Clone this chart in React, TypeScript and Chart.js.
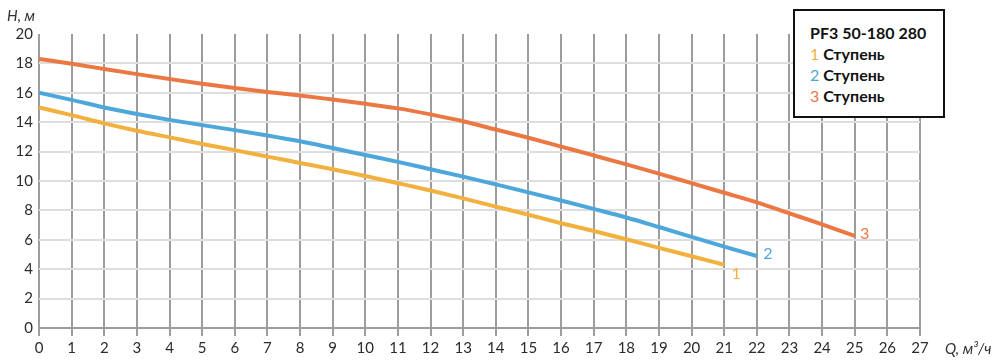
import React, { useEffect, useRef } from "react";
import { Chart, registerables } from "chart.js";

Chart.register(...registerables);

const flowRates = [0, 1, 2, 3, 4, 5, 6, 7, 8, 9, 10, 11, 12, 13, 14, 15, 16, 17, 18, 19, 20, 21, 22, 23, 24, 25];
const stage1Head = [15.0, 14.48, 13.92, 13.42, 12.97, 12.52, 12.1, 11.66, 11.23, 10.8, 10.34, 9.85, 9.35, 8.82, 8.26, 7.7, 7.13, 6.6, 6.04, 5.45, 4.88, 4.3];
const stage2Head = [16.0, 15.52, 15.0, 14.56, 14.16, 13.8, 13.46, 13.1, 12.7, 12.24, 11.77, 11.3, 10.8, 10.3, 9.77, 9.23, 8.67, 8.1, 7.52, 6.87, 6.2, 5.53, 4.9];
const stage3Head = [18.3, 17.98, 17.62, 17.27, 16.94, 16.61, 16.32, 16.06, 15.82, 15.54, 15.25, 14.94, 14.53, 14.06, 13.5, 12.94, 12.34, 11.74, 11.13, 10.5, 9.85, 9.2, 8.55, 7.8, 7.05, 6.26];
const seriesNames = ["1", "2", "3"];
const seriesColors = ["#F2B13F", "#4DA7DB", "#EB7843"];
const xTickLabels = flowRates.concat([26, 27]).map(String);
const legendTitle = "PF3 50-180 280";
const legendWord = "Ступень";
const yAxisTitle = "H, м";
const xAxisTitle = "Q, м³/ч";

const labelOffsets = [
  [12, 9],
  [11, -2],
  [10, -2],
];

const FONT = "Lato, 'Open Sans', sans-serif";

export default function App() {
  const canvasRef = useRef<HTMLCanvasElement | null>(null);

  useEffect(() => {
    document.body.style.margin = "0";
    const heads = [stage1Head, stage2Head, stage3Head];
    const datasets = heads.map((h, i) => ({
      label: seriesNames[i],
      data: h.map((y, k) => ({ x: flowRates[k], y })),
      borderColor: seriesColors[i],
      backgroundColor: seriesColors[i],
      borderWidth: 4,
      pointRadius: 0,
      tension: 0.4,
      cubicInterpolationMode: "monotone" as const,
      fill: false,
    }));

    const endLabels = {
      id: "endLabels",
      afterDatasetsDraw(chart: any) {
        const ctx = chart.ctx;
        ctx.save();
        ctx.font = `16px ${FONT}`;
        ctx.textAlign = "center";
        ctx.textBaseline = "middle";
        chart.data.datasets.forEach((ds: any, i: number) => {
          const meta = chart.getDatasetMeta(i);
          const pt = meta.data[meta.data.length - 1];
          if (!pt) return;
          ctx.fillStyle = seriesColors[i];
          ctx.fillText(ds.label, pt.x + labelOffsets[i][0], pt.y + labelOffsets[i][1]);
        });
        ctx.restore();
      },
    };

    const chart = new Chart(canvasRef.current as HTMLCanvasElement, {
      type: "line",
      data: { datasets },
      options: {
        animation: false,
        responsive: false,
        maintainAspectRatio: false,
        layout: { padding: { top: 34, right: 80, left: 0, bottom: 0 } },
        plugins: { legend: { display: false }, tooltip: { enabled: false } },
        scales: {
          x: {
            type: "linear",
            min: 0,
            max: 27,
            afterFit: (s: any) => {
              s.height = 35;
            },
            afterBuildTicks: (s: any) => {
              s.ticks = xTickLabels.map((t) => ({ value: Number(t) }));
            },
            ticks: {
              stepSize: 1,
              autoSkip: false,
              maxRotation: 0,
              padding: 3,
              color: "#2b2b2b",
              font: { family: FONT, size: 15 },
            },
            grid: {
              color: "#9d9d9d",
              lineWidth: 2,
              tickLength: 8,
              drawTicks: true,
            },
            border: { display: true, color: "#9d9d9d", width: 2 },
          },
          y: {
            min: 0,
            max: 20,
            afterFit: (s: any) => {
              s.width = 39;
            },
            ticks: {
              stepSize: 2,
              padding: 6,
              color: "#2b2b2b",
              font: { family: FONT, size: 15 },
            },
            grid: {
              drawTicks: false,
              lineWidth: 2,
              color: (c: any) => {
                const v = c.tick ? c.tick.value : null;
                if (v === 20) return "rgba(0,0,0,0)";
                if (v === 0) return "#9d9d9d";
                return "#dedede";
              },
            },
            border: { display: false },
          },
        },
      },
      plugins: [endLabels],
    } as any);
    return () => chart.destroy();
  }, []);

  const legendRows = seriesNames.map((n, i) => (
    <div key={n} style={{ height: 21, lineHeight: "21px", whiteSpace: "nowrap" }}>
      <span style={{ color: seriesColors[i], fontWeight: 400 }}>{n}</span>
      <span style={{ color: "#111", fontWeight: 700 }}> {legendWord}</span>
    </div>
  ));

  return (
    <div style={{ position: "absolute", left: 0, top: 0, width: 1000, height: 363, background: "#fff" }}>
      <canvas ref={canvasRef} width={1000} height={363} style={{ position: "absolute", left: 0, top: 0 }} />
      <div
        style={{
          position: "absolute",
          left: 7,
          top: 5,
          fontFamily: FONT,
          fontStyle: "italic",
          fontSize: 15,
          color: "#333",
          lineHeight: "20px",
        }}
      >
        {yAxisTitle}
      </div>
      <div
        style={{
          position: "absolute",
          left: 945,
          top: 338,
          fontFamily: FONT,
          fontStyle: "italic",
          fontSize: 15,
          color: "#333",
          lineHeight: "20px",
          whiteSpace: "nowrap",
        }}
      >
        {xAxisTitle}
      </div>
      <div
        style={{
          position: "absolute",
          left: 793,
          top: 9,
          width: 148,
          height: 105,
          border: "2px solid #111",
          background: "#fff",
          boxSizing: "content-box",
          fontFamily: FONT,
          fontSize: 16,
        }}
      >
        <div style={{ position: "absolute", left: 15, top: 11 }}>
          <div style={{ height: 21, lineHeight: "21px", fontWeight: 700, color: "#111", whiteSpace: "nowrap" }}>
            {legendTitle}
          </div>
          {legendRows}
        </div>
      </div>
    </div>
  );
}
